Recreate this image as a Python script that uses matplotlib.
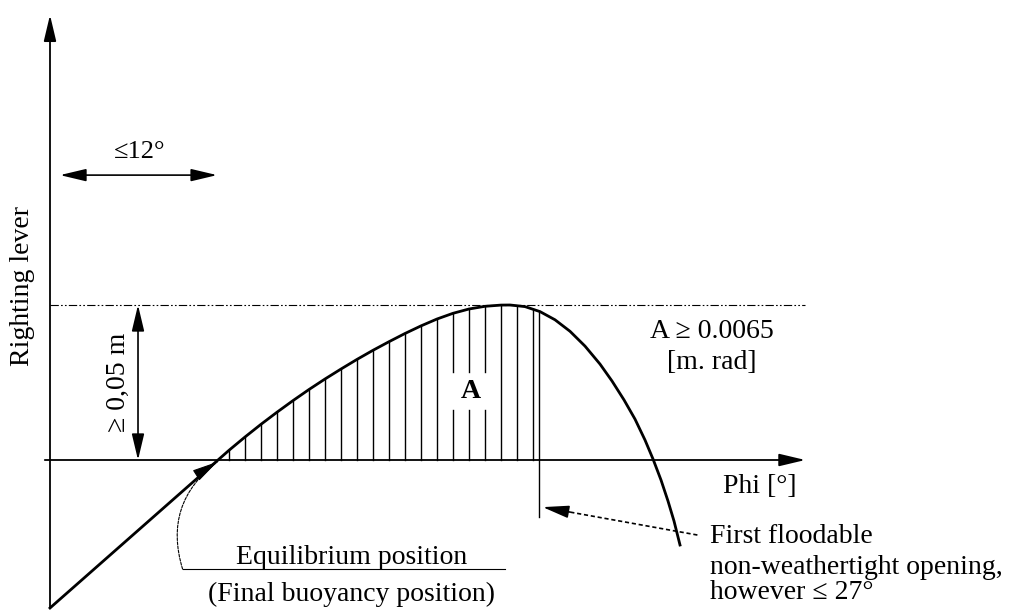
import numpy as np
import matplotlib
matplotlib.use('Agg')
import matplotlib.pyplot as plt
from matplotlib.patches import FancyArrowPatch

plt.rcParams['font.family'] = ['Liberation Serif', 'DejaVu Serif']
plt.rcParams['lines.scale_dashes'] = False

# righting lever curve (heel angle in degrees, lever in m)
phi = [0.0, 12.923, 13.769, 15.0, 16.231, 17.462, 18.692, 19.923, 21.154,
       22.385, 23.615, 24.846, 26.077, 27.308, 28.538, 29.769, 31.0,
       32.231, 33.462, 34.692, 35.385, 36.538, 37.692, 38.846, 40.0,
       41.154, 42.308, 43.231, 44.154, 45.0, 45.769, 46.385, 47.0,
       47.538, 48.0, 48.462]
lever = [-0.04774, 0.0, 0.00313, 0.00742, 0.01152, 0.01542, 0.01916,
         0.02274, 0.02613, 0.02935, 0.03245, 0.03539, 0.03816, 0.04081,
         0.04326, 0.04548, 0.04732, 0.04871, 0.04958, 0.04997, 0.05,
         0.04948, 0.04787, 0.04523, 0.04152, 0.03674, 0.03094, 0.02548,
         0.01939, 0.01319, 0.00645, 0.00032, -0.00645, -0.01323,
         -0.01968, -0.02742]

gz_min = 0.05          # required lever [m]
phi_eq = 12.923        # equilibrium angle
phi_open = 37.6        # first floodable opening
hatch_phi = np.arange(13.77, 37.2, 1.231)

# canvas scale: 13 px per degree, 3100 px per metre
S_X, S_Y = 13.0, 3100.0
fig = plt.figure(figsize=(10.26, 6.12), dpi=100)
ax = fig.add_axes([0, 0, 1, 1])
ax.set_xlim(-50 / S_X, (1026 - 50) / S_X)
ax.set_ylim((460 - 612) / S_Y, 460 / S_Y)
ax.axis('off')

FS = 20


def arrow(p0, p1, style='-|>', lw=1.2, ls='-', **kw):
    a = FancyArrowPatch(p0, p1, arrowstyle=style, mutation_scale=10,
                        lw=lw, linestyle=ls, color='black',
                        shrinkA=0, shrinkB=0, **kw)
    ax.add_patch(a)
    return a


hs = '-|>,head_length=1.6,head_width=0.38'
ds = '<|-|>,head_length=1.6,head_width=0.38'

# axes with arrows
arrow((0, lever[0]), (0, 445 / S_Y), style=hs, lw=1.3)
arrow((-0.4, 0), (58.1, 0), style=hs, lw=1.3)

# max lever reference line (dash-dot-dot)
ax.plot([0, 58.1], [gz_min, gz_min], color='black', lw=0.8,
        dashes=(6, 1.6, 1.2, 1.6, 1.2, 1.6))

# hatched area A (gap left around the label)
for p in hatch_phi:
    top = np.interp(p, phi, lever)
    if 30.5 < p < 34.0:
        ax.plot([p, p], [0, 0.0161], color='black', lw=1.0)
        ax.plot([p, p], [0.0284, top], color='black', lw=1.0)
    else:
        ax.plot([p, p], [0, top], color='black', lw=1.0)
ax.plot([phi_open, phi_open], [-0.0184, np.interp(phi_open, phi, lever)],
        color='black', lw=1.0)

# curve
ax.plot(phi, lever, color='black', lw=2.0, solid_joinstyle='round')

# <=12 deg dimension
arrow((0.77, 0.0919), (12.85, 0.0919), style=ds, lw=1.2)
ax.text(6.9, 0.0994, '≤12°', fontsize=FS - 1, ha='center', va='center')

# >= 0,05 m dimension
arrow((6.77, 0.0), (6.77, gz_min), style=ds, lw=1.2)
ax.text(5.23, 0.0252, '≥ 0,05 m', fontsize=FS, rotation=90,
        ha='center', va='center')

ax.text(-2.15, 0.0561, 'Righting lever', fontsize=FS, rotation=90,
        ha='center', va='center')

ax.text(32.4, 0.0222, 'A', fontsize=FS, ha='center', va='center',
        fontweight='bold')
ax.text(50.9, 0.0413, 'A ≥ 0.0065', fontsize=FS, ha='center', va='center')
ax.text(50.9, 0.0313, '[m. rad]', fontsize=FS, ha='center', va='center')
ax.text(54.6, -0.0087, 'Phi [°]', fontsize=FS, ha='center', va='center')

# first floodable opening: dashed shaft, solid head
ax.plot([49.8, 39.2], [-0.0242, -0.0162], color='black', lw=1.2,
        dashes=(3, 2))
arrow((40.0, -0.0168), (37.9, -0.0152), style=hs, lw=1.2)
ax.text(50.8, -0.0248, 'First floodable', fontsize=FS, ha='left', va='center')
ax.text(50.8, -0.0348, 'non-weathertight opening,', fontsize=FS,
        ha='left', va='center')
ax.text(50.8, -0.0426, 'however ≤ 27°', fontsize=FS, ha='left', va='center')

# equilibrium label
ax.text(23.2, -0.0313, 'Equilibrium position', fontsize=FS,
        ha='center', va='center')
ax.text(23.2, -0.0435, '(Final buoyancy position)', fontsize=FS,
        ha='center', va='center')
ax.plot([10.2, 35.0], [-0.0352, -0.0352], color='black', lw=0.8)
arrow((10.2, -0.0352), (phi_eq - 0.05, -0.0006), style='-', lw=0.8,
      ls=(0, (2, 1)), connectionstyle='arc3,rad=-0.35')
arrow((11.9, -0.0032), (phi_eq - 0.05, -0.0006), style=hs, lw=0.8)

fig.savefig('out.png', dpi=100)
